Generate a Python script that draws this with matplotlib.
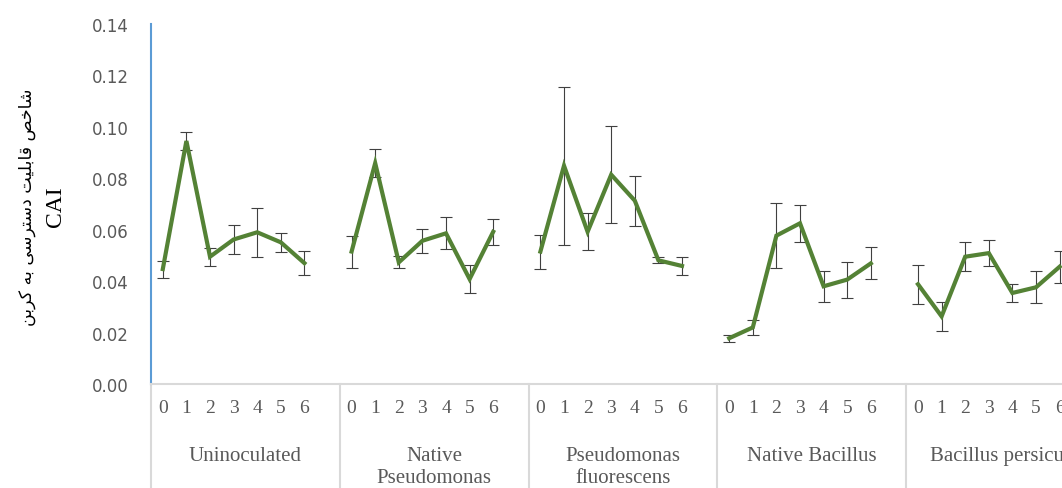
import numpy as np
import matplotlib.pyplot as plt
from matplotlib.transforms import blended_transform_factory

# CAI values per treatment, days 0..6
groups = ["Uninoculated", "Native\nPseudomonas", "Pseudomonas\nfluorescens",
          "Native Bacillus", "Bacillus persicus"]
days = ["0", "1", "2", "3", "4", "5", "6"]

uninoculated = [0.0447, 0.0945, 0.0495, 0.0562, 0.0590, 0.0551, 0.0470]
uninoculated_err = [0.0033, 0.0034, 0.0035, 0.0058, 0.0096, 0.0036, 0.0047]

native_pseudo = [0.0515, 0.0859, 0.0473, 0.0557, 0.0586, 0.0408, 0.0592]
native_pseudo_err = [0.0062, 0.0054, 0.0023, 0.0047, 0.0062, 0.0054, 0.0050]

pseudo_fluor = [0.0515, 0.0849, 0.0592, 0.0814, 0.0713, 0.0481, 0.0459]
pseudo_fluor_err = [0.0066, 0.0307, 0.0072, 0.0188, 0.0097, 0.0012, 0.0036]

native_bacillus = [0.0178, 0.0220, 0.0577, 0.0625, 0.0380, 0.0406, 0.0469]
native_bacillus_err = [0.0013, 0.0030, 0.0126, 0.0072, 0.0060, 0.0070, 0.0062]

bacillus_persicus = [0.0388, 0.0263, 0.0495, 0.0509, 0.0354, 0.0376, 0.0456]
bacillus_persicus_err = [0.0075, 0.0056, 0.0057, 0.0051, 0.0036, 0.0062, 0.0063]

series = [uninoculated, native_pseudo, pseudo_fluor, native_bacillus, bacillus_persicus]
errors = [uninoculated_err, native_pseudo_err, pseudo_fluor_err,
          native_bacillus_err, bacillus_persicus_err]

# Persian label written in visual order with presentation forms
fa_label = ("\uFEE6\uFE91\uFEAE\uFB90 \uFEEA\uFE91 "
            "\uFBFD\uFEB3\uFEAE\uFE98\uFEB3\uFEA9 "
            "\uFE96\uFBFF\uFEE0\uFE91\uFE8E\uFED7 "
            "\uFEBA\uFEA7\uFE8E\uFEB7")

slot = 8  # 7 days + one empty slot per group
grey = "#595959"

fig = plt.figure(figsize=(10.62, 4.89), dpi=100)
ax = fig.add_axes([151 / 1062, 104 / 489, 944 / 1062, 360 / 489])

tick_pos = []
for g, (vals, errs) in enumerate(zip(series, errors)):
    x = g * slot + np.arange(len(days))
    tick_pos.extend(x)
    ax.errorbar(x, vals, yerr=errs, fmt="none", ecolor="#404040",
                elinewidth=0.8, capsize=4, capthick=0.8, zorder=2)
    ax.plot(x, vals, color="#548235", linewidth=3, zorder=3,
            solid_joinstyle="miter")

ax.set_xlim(-0.5, len(groups) * slot - 0.5)
ax.set_ylim(0, 0.14)
ax.set_yticks(np.arange(0, 0.141, 0.02))
ax.set_yticklabels([f"{v:.2f}" for v in np.arange(0, 0.141, 0.02)],
                   fontsize=12, color=grey)
ax.tick_params(axis="y", length=0, pad=16)

ax.set_xticks(tick_pos)
ax.set_xticklabels(days * len(groups), fontsize=14, color=grey,
                   family="Liberation Serif")
ax.tick_params(axis="x", length=0, pad=11)

for s in ["top", "right"]:
    ax.spines[s].set_visible(False)
ax.spines["left"].set_color("#5B9BD5")
ax.spines["left"].set_linewidth(1.5)
ax.spines["bottom"].set_color("#D9D9D9")
ax.spines["bottom"].set_linewidth(1.5)

trans = blended_transform_factory(ax.transData, ax.transAxes)
for g, name in enumerate(groups):
    left = g * slot - 0.5
    ax.plot([left, left], [0, -0.3], transform=trans, color="#D9D9D9",
            linewidth=1.5, clip_on=False)
    ax.text(g * slot + 3.5, -0.172, name, transform=trans, ha="center",
            va="top", fontsize=15, color=grey, family="Liberation Serif",
            linespacing=1.2)

fig.text(27 / 1062, 1 - 207 / 489, fa_label, rotation=90, ha="center",
         va="center", fontsize=12.5, family="DejaVu Sans", color="#000000")
fig.text(55 / 1062, 1 - 207 / 489, "CAI", rotation=90, ha="center",
         va="center", fontsize=17, family="Liberation Serif", color="#000000")

fig.savefig("out.png", dpi=100)
